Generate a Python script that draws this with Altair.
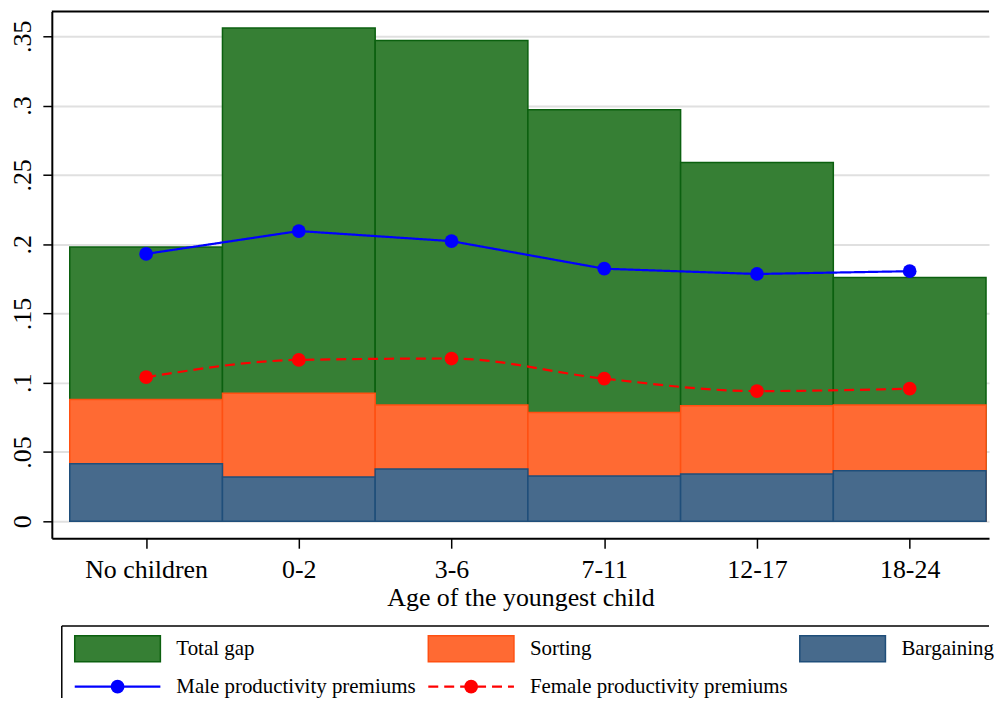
import json
import altair as alt
import pandas as pd

# ---------------- data ----------------
CATEGORIES = ["No children", "0-2", "3-6", "7-11", "12-17", "18-24"]
TOTAL_GAP = [0.198, 0.356, 0.347, 0.297, 0.259, 0.176]
SORTING = [0.088, 0.0925, 0.084, 0.0785, 0.0835, 0.084]
BARGAINING = [0.0415, 0.032, 0.0378, 0.0327, 0.0342, 0.0365]
MALE_PREMIUM = [0.193, 0.2095, 0.2022, 0.1823, 0.1785, 0.1805]
FEMALE_PREMIUM = [0.104, 0.1165, 0.1175, 0.103, 0.094, 0.0957]
Y_TICKS = [0, 0.05, 0.1, 0.15, 0.2, 0.25, 0.3, 0.35]
BAR_SERIES = ["Total gap", "Sorting", "Bargaining"]
LINE_SERIES = ["Male productivity premiums", "Female productivity premiums"]
X_TITLE = "Age of the youngest child"

# ---------------- styles ----------------
FONT = "Liberation Serif"
BAR_FILL = ["#367f34", "#ff6a33", "#476a8c"]
BAR_EDGE = ["#0b600f", "#ff5012", "#1f4e7a"]
LINE_COLOR = ["#0000ff", "#ff0000"]
LINE_DASH = [[1, 0], [10, 6]]
LINE_INTERP = ["linear", "monotone"]

PLOT_W, PLOT_H = 941, 529
X_DOMAIN = [-0.6174, 5.5196]
Y_DOMAIN = [-0.0122, 0.368]

n = len(CATEGORIES)

# ---------------- main panel ----------------
bar_rows = []
for k, (s, vals, fill, edge) in enumerate(zip(BAR_SERIES, [TOTAL_GAP, SORTING, BARGAINING], BAR_FILL, BAR_EDGE)):
    for i, v in enumerate(vals):
        bar_rows.append({"series": s, "k": k, "idx": i, "value": v, "base": 0.0, "fill": fill, "edge": edge})
bars_df = pd.DataFrame(bar_rows)
bars_df["x0"] = bars_df["idx"] - 0.5
bars_df["x1"] = bars_df["idx"] + 0.5

xscale = alt.Scale(domain=X_DOMAIN, nice=False, zero=False)
yscale = alt.Scale(domain=Y_DOMAIN, nice=False, zero=False)

x_axis = alt.Axis(
    values=list(range(n)),
    labelExpr=f"{json.dumps(CATEGORIES)}[datum.value]",
    grid=False, tickSize=10, tickWidth=1.5, tickColor="black",
    domainColor="black", domainWidth=2,
    labelFont=FONT, labelFontSize=26, labelColor="black", labelPadding=8,
    title=X_TITLE, titleFont=FONT, titleFontSize=26, titleFontWeight="normal",
    titleColor="black", titlePadding=3,
)
Y_AXIS_STYLE = dict(
    tickSize=9, tickWidth=1.5, tickColor="black",
    labelFont=FONT, labelFontSize=26, labelColor="black", labelPadding=7,
    labelAngle=270, labelAlign="center", labelBaseline="bottom", title=None,
)
y_axis = alt.Axis(
    values=Y_TICKS,
    labelExpr="datum.value == 0 ? '0' : substring(format(datum.value, '.2~f'), 1)",
    grid=True, gridColor="#e0e0e0", gridWidth=2,
    domainColor="black", domainWidth=2,
    **Y_AXIS_STYLE,
)

bar_layer = alt.Chart(bars_df).mark_bar(strokeWidth=1.5).encode(
    x=alt.X("x0:Q", scale=xscale, axis=x_axis),
    x2="x1:Q",
    y=alt.Y("value:Q", scale=yscale, axis=y_axis),
    y2="base:Q",
    fill=alt.Fill("fill:N", scale=None),
    stroke=alt.Stroke("edge:N", scale=None),
    order=alt.Order("k:Q"),
)

line_layers = []
for s, vals, col, dash, interp in zip(LINE_SERIES, [MALE_PREMIUM, FEMALE_PREMIUM], LINE_COLOR, LINE_DASH, LINE_INTERP):
    df = pd.DataFrame({"idx": list(range(n)), "value": vals, "series": s})
    base = alt.Chart(df).encode(
        x=alt.X("idx:Q", scale=xscale, axis=x_axis),
        y=alt.Y("value:Q", scale=yscale, axis=y_axis),
    )
    line_layers.append(base.mark_line(color=col, strokeWidth=2.2, strokeDash=dash, interpolate=interp))
    line_layers.append(base.mark_point(color=col, filled=True, opacity=1, size=190))

top_rule = alt.Chart(pd.DataFrame({"a": [0]})).mark_rule(color="black", strokeWidth=2).encode(
    x=alt.value(0), x2=alt.value(PLOT_W), y=alt.value(0)
)

main = alt.layer(bar_layer, *line_layers, top_rule).properties(width=PLOT_W, height=PLOT_H)

# ---------------- legend panel ----------------
LEG_OFFSET = 10                      # legend box starts 10px right of the plot's left edge
LEG_W, LEG_H = PLOT_W, 75
LEG_X_DOMAIN = [-LEG_OFFSET, LEG_W - LEG_OFFSET]
LEG_COL_X = [13, 368, 741]
LEG_ROW_Y = [23, 61]
SYM_W, SYM_H, LABEL_GAP = 86, 26, 16

leg_bar = pd.DataFrame({
    "label": BAR_SERIES,
    "fill": BAR_FILL,
    "edge": BAR_EDGE,
    "sx": LEG_COL_X[:3],
    "cy": [LEG_ROW_Y[0]] * 3,
})
leg_bar["sx2"] = leg_bar["sx"] + SYM_W
leg_bar["ty"] = leg_bar["cy"] - SYM_H / 2
leg_bar["by"] = leg_bar["cy"] + SYM_H / 2
leg_bar["lx"] = leg_bar["sx2"] + LABEL_GAP

lx_scale = alt.Scale(domain=LEG_X_DOMAIN, nice=False, zero=False)
ly_scale = alt.Scale(domain=[0, LEG_H], nice=False, zero=False, reverse=True)
# invisible axis of the same extent as the main y axis, so both panels line up
ly_axis = alt.Axis(
    values=[LEG_H / 2], labelExpr="'.35'", grid=False, domain=False,
    labelOpacity=0, tickOpacity=0, **Y_AXIS_STYLE,
)

leg_layers = []
leg_layers.append(alt.Chart(leg_bar).mark_rect(strokeWidth=1.5).encode(
    x=alt.X("sx:Q", scale=lx_scale, axis=None), x2="sx2:Q",
    y=alt.Y("ty:Q", scale=ly_scale, axis=ly_axis), y2="by:Q",
    fill=alt.Fill("fill:N", scale=None), stroke=alt.Stroke("edge:N", scale=None),
))

text_rows = list(zip(BAR_SERIES, leg_bar["lx"].tolist(), [LEG_ROW_Y[0]] * 3))
for i, (s, col, dash) in enumerate(zip(LINE_SERIES, LINE_COLOR, LINE_DASH)):
    sx = LEG_COL_X[i]
    seg = pd.DataFrame({"sx": [sx], "sx2": [sx + SYM_W], "mx": [sx + SYM_W / 2], "cy": [LEG_ROW_Y[1]]})
    b = alt.Chart(seg)
    leg_layers.append(b.mark_rule(color=col, strokeWidth=2.2, strokeDash=dash).encode(
        x=alt.X("sx:Q", scale=lx_scale, axis=None), x2="sx2:Q",
        y=alt.Y("cy:Q", scale=ly_scale, axis=ly_axis)))
    leg_layers.append(b.mark_point(color=col, filled=True, opacity=1, size=190).encode(
        x=alt.X("mx:Q", scale=lx_scale, axis=None),
        y=alt.Y("cy:Q", scale=ly_scale, axis=ly_axis)))
    text_rows.append((s, sx + SYM_W + LABEL_GAP, LEG_ROW_Y[1]))

leg_text = pd.DataFrame(text_rows, columns=["label", "lx", "cy"])
leg_layers.append(alt.Chart(leg_text).mark_text(
    align="left", baseline="middle", font=FONT, fontSize=21, color="black"
).encode(
    x=alt.X("lx:Q", scale=lx_scale, axis=None),
    y=alt.Y("cy:Q", scale=ly_scale, axis=ly_axis),
    text="label:N",
))

frame_df = pd.DataFrame({"x0": [0], "x1": [LEG_X_DOMAIN[1]], "y0": [0], "y1": [LEG_H]})
frame = alt.Chart(frame_df)
leg_layers.append(frame.mark_rule(color="black", strokeWidth=1.5).encode(
    x=alt.X("x0:Q", scale=lx_scale, axis=None), x2="x1:Q",
    y=alt.Y("y0:Q", scale=ly_scale, axis=ly_axis)))
leg_layers.append(frame.mark_rule(color="black", strokeWidth=1.5).encode(
    x=alt.X("x0:Q", scale=lx_scale, axis=None),
    y=alt.Y("y0:Q", scale=ly_scale, axis=ly_axis), y2="y1:Q"))

legend_panel = alt.layer(*leg_layers).properties(width=LEG_W, height=LEG_H)

chart = alt.vconcat(main, legend_panel, spacing=14).properties(
    padding={"left": 2, "top": 1, "right": 0, "bottom": -5}
).configure(background="white").configure_view(stroke=None)

chart.save("out.html", embed_options={"renderer": "svg", "actions": False})
